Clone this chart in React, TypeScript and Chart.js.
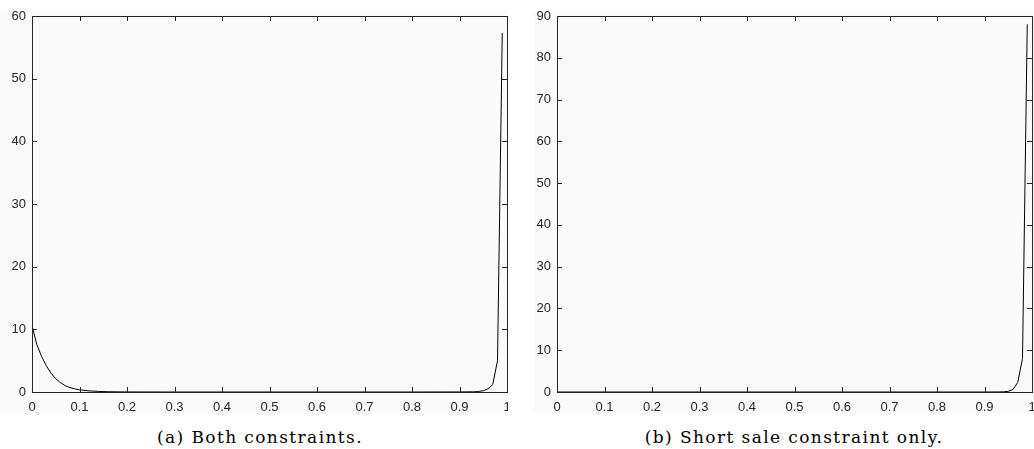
import React, { useEffect, useRef } from "react";
import { Chart, registerables } from "chart.js";

Chart.register(...registerables);

// ---- data ----
const leftX = [0, 0.01, 0.02, 0.03, 0.04, 0.05, 0.06, 0.07, 0.08, 0.09, 0.1, 0.12, 0.14, 0.16, 0.2, 0.3, 0.4, 0.5, 0.6, 0.7, 0.8, 0.9, 0.93, 0.94, 0.95, 0.96, 0.97, 0.98, 0.99];
const leftY = [10.6, 7.6, 5.7, 4.2, 3.0, 2.1, 1.5, 1.0, 0.7, 0.5, 0.35, 0.18, 0.09, 0.04, 0.01, 0, 0, 0, 0, 0, 0, 0.01, 0.03, 0.08, 0.2, 0.5, 1.2, 5.0, 57.3];

const rightX = [0, 0.1, 0.2, 0.3, 0.4, 0.5, 0.6, 0.7, 0.8, 0.9, 0.93, 0.94, 0.95, 0.96, 0.97, 0.98, 0.99];
const rightY = [0, 0, 0, 0, 0, 0, 0, 0, 0, 0, 0.02, 0.05, 0.15, 0.6, 2.3, 8.0, 88.0];

const leftYMax = 60;
const rightYMax = 90;
const yStep = 10;
const xStep = 0.1;

const captionLeft = "(a) Both constraints.";
const captionRight = "(b) Short sale constraint only.";

const AXIS_COLOR = "#262626";
const PANEL_BG = "#fafafa";

const boxTicksPlugin = {
  id: "boxTicks",
  afterDraw(chart: any) {
    const { ctx, chartArea } = chart;
    const { left, right, top, bottom } = chartArea;
    const xs = chart.scales.x;
    const ys = chart.scales.y;
    const len = 5;
    ctx.save();
    ctx.strokeStyle = AXIS_COLOR;
    ctx.lineWidth = 1;
    ctx.beginPath();
    xs.ticks.forEach((t: any) => {
      const px = Math.round(xs.getPixelForValue(t.value)) + 0.5;
      ctx.moveTo(px, bottom);
      ctx.lineTo(px, bottom - len);
      ctx.moveTo(px, top);
      ctx.lineTo(px, top + len);
    });
    ys.ticks.forEach((t: any) => {
      const py = Math.round(ys.getPixelForValue(t.value)) + 0.5;
      ctx.moveTo(left, py);
      ctx.lineTo(left + len, py);
      ctx.moveTo(right, py);
      ctx.lineTo(right - len, py);
    });
    ctx.stroke();
    ctx.strokeRect(Math.round(left) + 0.5, Math.round(top) + 0.5, Math.round(right - left), Math.round(bottom - top));
    ctx.restore();
  },
};

function makeConfig(xs: number[], ys: number[], yMax: number, yAxisWidth: number, padRight: number) {
  return {
    type: "line" as const,
    data: {
      datasets: [
        {
          data: xs.map((x, i) => ({ x, y: ys[i] })),
          borderColor: "#000000",
          borderWidth: 1,
          pointRadius: 0,
          tension: 0,
          fill: false,
        },
      ],
    },
    options: {
      animation: false,
      responsive: false,
      devicePixelRatio: 1,
      layout: { padding: { left: 0, right: padRight, top: 6, bottom: 0 } },
      plugins: { legend: { display: false }, tooltip: { enabled: false } },
      scales: {
        x: {
          type: "linear",
          min: 0,
          max: 1,
          grid: { display: false, drawTicks: false },
          border: { display: false },
          ticks: {
            stepSize: xStep,
            autoSkip: false,
            maxRotation: 0,
            padding: 8,
            color: AXIS_COLOR,
            font: { family: "'Liberation Sans', Arial, sans-serif", size: 13 },
            callback: (v: any) => String(Number(Number(v).toFixed(1))),
          },
          afterFit: (s: any) => {
            s.height = 22;
            s.paddingLeft = 0;
            s.paddingRight = 0;
          },
        },
        y: {
          type: "linear",
          min: 0,
          max: yMax,
          grid: { display: false, drawTicks: false },
          border: { display: false },
          ticks: {
            stepSize: yStep,
            padding: 6,
            color: AXIS_COLOR,
            font: { family: "'Liberation Sans', Arial, sans-serif", size: 13 },
          },
          afterFit: (s: any) => {
            s.width = yAxisWidth;
            s.paddingTop = 0;
            s.paddingBottom = 0;
          },
        },
      },
    },
    plugins: [boxTicksPlugin],
  };
}

function Panel(props: { xs: number[]; ys: number[]; yMax: number; yAxisWidth: number; padRight: number; left: number; width: number }) {
  const ref = useRef<HTMLCanvasElement | null>(null);
  useEffect(() => {
    if (!ref.current) return;
    const chart = new Chart(ref.current, makeConfig(props.xs, props.ys, props.yMax, props.yAxisWidth, props.padRight) as any);
    return () => chart.destroy();
  }, []);
  return (
    <canvas
      ref={ref}
      width={props.width}
      height={404}
      style={{ position: "absolute", left: props.left, top: 10, width: props.width, height: 404, background: PANEL_BG }}
    />
  );
}

export default function App() {
  const capStyle: React.CSSProperties = {
    position: "absolute",
    top: 427,
    width: 400,
    textAlign: "center",
    fontFamily: "'DejaVu Serif', serif",
    fontSize: 17,
    letterSpacing: "1.4px",
    color: "#000",
    whiteSpace: "nowrap",
    lineHeight: "20px",
  };
  return (
    <div style={{ position: "fixed", left: 0, top: 0, width: 1034, height: 449, background: "#fff", overflow: "hidden" }}>
      <Panel xs={leftX} ys={leftY} yMax={leftYMax} yAxisWidth={32} padRight={1} left={0} width={508} />
      <Panel xs={rightX} ys={rightY} yMax={rightYMax} yAxisWidth={23} padRight={2} left={534} width={500} />
      <div style={{ ...capStyle, left: 260 - 200 }}>{captionLeft}</div>
      <div style={{ ...capStyle, left: 794 - 200 }}>{captionRight}</div>
    </div>
  );
}
